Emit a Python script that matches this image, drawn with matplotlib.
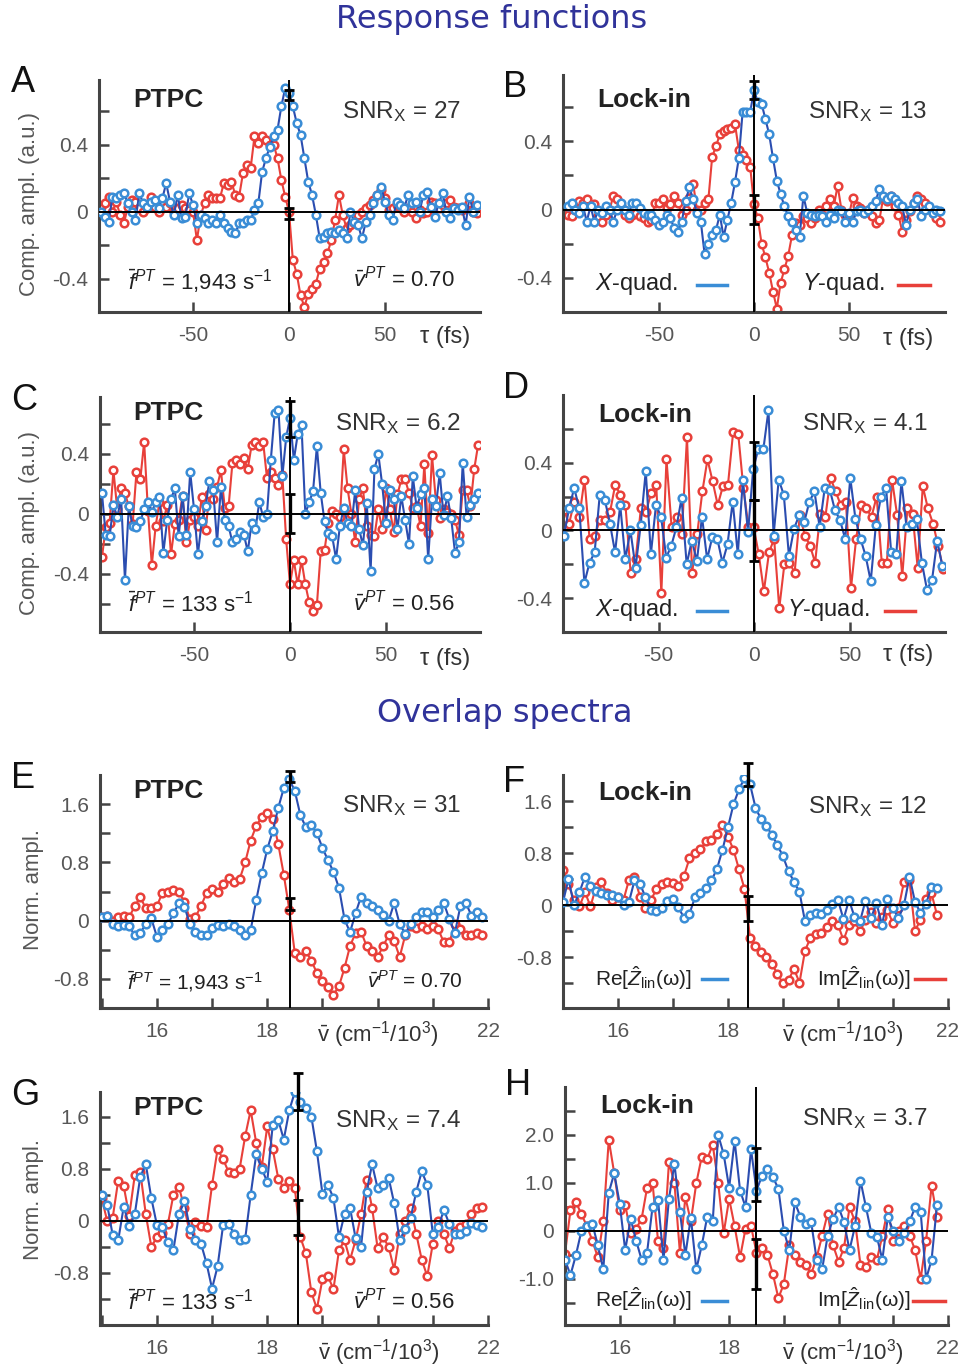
import numpy as np
import matplotlib
matplotlib.use("Agg")
import matplotlib.pyplot as plt
from matplotlib.lines import Line2D

plt.rcParams['font.family'] = 'Liberation Sans'
plt.rcParams['mathtext.fontset'] = 'custom'
plt.rcParams['mathtext.rm'] = 'Liberation Sans'
plt.rcParams['mathtext.it'] = 'Liberation Sans:italic'
plt.rcParams['mathtext.bf'] = 'Liberation Sans:bold'
plt.rcParams['axes.unicode_minus'] = False

# ---- response functions (tau in fs) ----
tau = np.arange(-98, 99, 2)

a_blue = [0.0, -0.03, -0.06, 0.09, 0.08, 0.1, 0.11, 0.05, 0.0, -0.05,
          0.11, 0.05, 0.03, 0.06, 0.07, 0.02, 0.08, 0.17, 0.06, -0.02,
          0.1, -0.04, -0.03, 0.11, 0.04, -0.07, -0.02, -0.04, -0.07, -0.05,
          -0.07, -0.02, -0.07, -0.1, -0.12, -0.13, -0.07, -0.07, -0.05, -0.05,
          0.01, 0.05, 0.24, 0.32, 0.39, 0.45, 0.49, 0.63, 0.74, 0.71,
          0.63, 0.53, 0.46, 0.32, 0.18, 0.1, -0.02, -0.16, -0.15, -0.13,
          -0.12, -0.13, -0.11, -0.13, -0.16, 0.0, -0.06, -0.08, -0.16, -0.06,
          -0.02, 0.05, 0.1, 0.15, 0.06, -0.02, -0.05, 0.06, 0.04, 0.02,
          0.1, 0.05, 0.06, 0.0, 0.1, 0.12, 0.03, -0.03, 0.05, 0.11,
          0.0, -0.04, 0.02, 0.01, 0.03, -0.08, 0.09, 0.0, 0.04]
a_red = [0.03, 0.05, 0.09, 0.0, 0.06, -0.02, -0.07, 0.03, 0.07, 0.06,
         0.02, 0.0, 0.02, 0.09, 0.03, 0.0, 0.06, 0.03, 0.05, 0.0,
         0.02, 0.04, 0.02, 0.01, 0.0, -0.17, -0.02, 0.05, 0.1, 0.08,
         0.08, 0.08, 0.17, 0.16, 0.18, 0.1, 0.09, 0.23, 0.28, 0.26,
         0.45, 0.41, 0.45, 0.43, 0.4, 0.4, 0.32, 0.19, 0.09, 0.0,
         -0.29, -0.37, -0.5, -0.57, -0.49, -0.46, -0.43, -0.34, -0.3, -0.25,
         -0.17, -0.05, 0.1, -0.02, -0.1, -0.08, -0.07, -0.02, 0.0, 0.02,
         0.04, 0.07, 0.1, 0.13, 0.08, 0.01, 0.02, 0.04, 0.03, 0.0,
         0.02, 0.0, -0.04, 0.01, -0.01, 0.0, 0.06, 0.05, 0.02, 0.04,
         0.05, 0.07, 0.03, 0.02, 0.01, 0.03, 0.05, 0.0, -0.01]

b_blue = [0.02, 0.04, 0.0, -0.02, 0.02, -0.07, 0.02, -0.07, 0.0, -0.02,
          0.02, 0.0, -0.07, 0.0, 0.04, 0.0, -0.03, 0.04, 0.04, 0.01,
          -0.02, -0.03, -0.03, -0.06, -0.09, -0.07, -0.03, -0.05, -0.11, -0.13,
          -0.07, 0.05, 0.13, 0.06, -0.02, -0.07, -0.26, -0.2, -0.15, -0.12,
          -0.03, -0.16, -0.06, 0.04, 0.16, 0.3, 0.57, 0.57, 0.57, 0.7,
          0.63, 0.62, 0.53, 0.44, 0.3, 0.17, 0.09, 0.02, -0.04, -0.07,
          -0.12, -0.16, 0.08, -0.02, -0.03, -0.04, -0.03, -0.04, -0.07, -0.03,
          -0.05, 0.0, -0.01, -0.07, -0.02, -0.07, -0.01, 0.0, -0.02, 0.0,
          0.02, 0.05, 0.12, 0.08, 0.06, 0.08, 0.06, 0.04, 0.02, -0.09,
          0.0, 0.04, 0.06, -0.04, 0.0, 0.02, -0.02, 0.0, -0.01]
b_red = [-0.03, -0.04, 0.0, 0.05, 0.04, 0.06, 0.02, 0.03, -0.04, -0.07,
         -0.03, 0.0, 0.08, 0.06, 0.02, -0.03, -0.05, -0.03, -0.02, -0.04,
         -0.05, -0.07, -0.06, 0.04, 0.04, 0.06, 0.01, 0.03, 0.08, 0.04,
         -0.03, 0.0, 0.07, 0.15, 0.0, 0.0, 0.04, 0.06, 0.31, 0.37,
         0.44, 0.46, 0.47, 0.48, 0.5, 0.35, 0.32, 0.29, 0.25, 0.03,
         -0.05, -0.2, -0.28, -0.37, -0.48, -0.58, -0.43, -0.35, -0.27, -0.15,
         -0.08, -0.09, -0.04, -0.05, -0.08, -0.05, 0.0, -0.03, 0.02, 0.06,
         0.02, 0.14, 0.0, -0.03, -0.03, 0.07, 0.02, 0.01, -0.02, 0.0,
         -0.04, -0.08, -0.06, 0.07, 0.05, 0.08, 0.02, -0.03, -0.13, -0.06,
         -0.01, 0.04, 0.08, 0.06, 0.04, 0.01, -0.02, -0.05, -0.07]

c_blue = [0.14, -0.14, -0.15, 0.06, -0.02, 0.1, -0.44, 0.05, -0.08, -0.09,
          -0.05, 0.03, 0.08, 0.01, 0.08, 0.11, -0.26, -0.04, 0.1, 0.17,
          -0.15, 0.12, -0.14, 0.28, 0.03, -0.27, -0.05, 0.05, 0.22, 0.16,
          -0.19, 0.18, -0.04, -0.08, -0.19, -0.17, -0.12, -0.14, -0.25, -0.06,
          -0.1, 0.08, -0.02, 0.0, 0.36, 0.67, 0.69, 0.25, 0.51, 0.64,
          0.36, 0.53, 0.59, 0.0, 0.08, 0.15, 0.45, 0.14, -0.05, -0.13,
          -0.15, -0.3, -0.08, 0.04, -0.06, -0.08, 0.16, -0.1, -0.21, 0.07,
          -0.38, 0.3, 0.4, 0.2, -0.06, 0.16, 0.1, -0.1, 0.12, -0.04,
          -0.2, 0.25, 0.04, 0.13, 0.17, -0.3, 0.1, 0.05, 0.27, -0.01,
          0.12, -0.03, -0.26, -0.19, 0.34, -0.02, 0.06, 0.1, 0.14]
c_red = [-0.29, -0.09, -0.06, 0.29, 0.03, 0.17, 0.14, 0.05, -0.07, 0.28,
         0.23, 0.48, 0.02, -0.34, -0.08, 0.08, -0.05, 0.06, -0.27, -0.07,
         -0.04, 0.12, -0.19, -0.04, -0.02, -0.08, 0.11, -0.11, 0.13, 0.1,
         0.18, 0.29, 0.04, 0.05, 0.34, 0.36, 0.33, 0.37, 0.3, 0.46,
         0.48, 0.45, 0.48, 0.24, 0.28, 0.24, 0.19, 0.26, -0.17, -0.47,
         -0.31, -0.47, -0.31, -0.47, -0.59, -0.65, -0.61, -0.25, -0.24, -0.06,
         0.02, 0.0, -0.02, 0.43, 0.17, 0.0, -0.19, 0.1, 0.17, -0.08,
         -0.14, -0.15, 0.03, -0.1, 0.17, 0.03, -0.12, 0.13, 0.23, 0.23,
         0.14, 0.04, 0.05, -0.08, 0.33, -0.13, 0.39, 0.09, -0.03, 0.03,
         0.01, 0.0, -0.04, -0.14, 0.16, 0.16, 0.05, 0.3, 0.46]

d_blue = [-0.03, 0.13, 0.25, 0.13, -0.31, -0.19, -0.13, 0.21, 0.18, 0.04,
          -0.13, 0.15, -0.17, 0.0, -0.22, 0.03, 0.35, -0.14, 0.15, 0.08,
          -0.16, -0.09, 0.02, 0.19, -0.2, -0.06, -0.18, 0.08, -0.17, -0.04,
          -0.05, -0.19, -0.08, 0.17, -0.14, 0.3, -0.01, 0.36, 0.48, 0.48,
          0.71, -0.03, 0.3, 0.21, -0.15, 0.01, 0.09, 0.05, 0.17, 0.23,
          0.02, 0.25, 0.24, 0.12, 0.06, -0.05, 0.31, 0.07, -0.05, -0.15,
          -0.3, 0.03, 0.2, 0.25, -0.13, -0.14, 0.29, 0.02, 0.04, 0.07,
          -0.19, -0.35, -0.29, -0.06, -0.21]
d_red = [0.12, 0.04, 0.17, 0.08, 0.3, -0.05, -0.03, 0.06, 0.06, 0.11,
         0.27, 0.21, 0.15, -0.25, -0.17, 0.13, 0.11, 0.22, 0.27, -0.37,
         0.42, 0.02, 0.08, -0.02, 0.55, -0.25, -0.02, 0.23, 0.42, 0.29,
         0.15, 0.26, 0.27, 0.58, 0.57, 0.25, 0.02, 0.02, -0.14, -0.36,
         -0.13, -0.05, -0.46, -0.2, -0.19, -0.25, 0.09, -0.03, -0.09, -0.19,
         0.1, 0.08, 0.31, 0.23, 0.15, 0.17, -0.34, -0.05, 0.15, 0.13,
         0.08, 0.2, -0.19, -0.19, 0.3, 0.09, -0.27, 0.13, 0.1, -0.22,
         0.26, 0.13, 0.04, -0.09, -0.23]
d_tau_blue = np.linspace(-99.5, 98.1, len(d_blue))
d_tau_red = np.linspace(-99.5, 98.6, len(d_red))

# ---- overlap spectra (wavenumber / 10^3 cm^-1) ----
nu_left = np.round(np.arange(15.0, 21.95, 0.1), 2)   # E, G
nu_right = np.round(np.arange(15.0, 21.85, 0.1), 2)  # F, H

e_blue = [0.05, 0.06, -0.05, -0.08, -0.06, -0.08, -0.2, -0.17, -0.05, 0.03,
          -0.22, -0.13, -0.05, 0.1, 0.24, 0.19, -0.05, -0.16, -0.2, -0.2,
          -0.1, -0.06, -0.08, -0.04, -0.08, -0.13, -0.2, -0.13, 0.28, 0.65,
          0.98, 1.23, 1.55, 1.82, 1.94, 1.78, 1.45, 1.28, 1.31, 1.2,
          1.0, 0.83, 0.67, 0.45, 0.02, -0.16, 0.1, 0.33, 0.24, 0.2,
          0.15, 0.08, 0.0, 0.24, -0.05, -0.18, -0.05, 0.05, 0.12, 0.12,
          0.05, 0.14, 0.24, 0.02, -0.17, 0.2, 0.24, 0.07, 0.12, 0.05]
e_red = [0.05, 0.07, 0.0, 0.05, 0.07, 0.05, 0.2, 0.32, 0.17, 0.17,
         0.2, 0.38, 0.4, 0.42, 0.4, 0.25, 0.02, 0.05, 0.2, 0.38,
         0.44, 0.4, 0.5, 0.58, 0.53, 0.57, 0.8, 1.1, 1.3, 1.42,
         1.48, 1.4, 1.05, 0.63, 0.15, -0.45, -0.5, -0.42, -0.55, -0.72,
         -0.83, -0.91, -1.02, -0.9, -0.65, -0.35, -0.17, -0.15, -0.35, -0.42,
         -0.5, -0.35, -0.2, -0.28, -0.5, -0.2, -0.07, -0.1, -0.08, -0.12,
         -0.08, -0.12, -0.3, -0.3, -0.05, -0.12, -0.2, -0.2, -0.17, -0.2]

f_blue = [0.05, 0.4, 0.0, 0.2, 0.44, 0.3, 0.22, 0.18, 0.15, 0.15,
          0.13, 0.0, 0.05, 0.38, 0.33, 0.12, -0.08, -0.09, -0.04, 0.07,
          0.1, -0.03, -0.2, -0.13, 0.12, 0.18, 0.26, 0.38, 0.56, 0.85,
          1.2, 1.55, 1.78, 1.95, 1.86, 1.5, 1.32, 1.21, 1.08, 0.92,
          0.75, 0.52, 0.36, 0.2, -0.25, -0.15, -0.12, -0.13, -0.08, 0.02,
          0.08, -0.22, 0.08, -0.18, -0.25, 0.07, -0.2, 0.03, -0.3, 0.1,
          -0.05, -0.2, 0.0, 0.44, 0.05, -0.12, 0.02, 0.28, 0.26]
f_red = [0.54, 0.32, 0.08, -0.02, 0.2, -0.02, 0.28, 0.35, 0.18, 0.08,
         0.12, 0.08, 0.39, 0.43, 0.13, -0.05, 0.08, 0.25, 0.33, 0.36,
         0.34, 0.3, 0.45, 0.72, 0.8, 0.86, 0.98, 1.0, 1.1, 1.23,
         1.05, 0.85, 0.55, 0.25, -0.5, -0.62, -0.72, -0.8, -0.9, -1.06,
         -1.2, -1.15, -0.98, -1.19, -0.7, -0.5, -0.45, -0.42, -0.33, -0.25,
         -0.3, -0.54, -0.3, -0.25, -0.4, -0.23, -0.1, -0.28, -0.18, -0.08,
         -0.28, -0.05, 0.36, 0.38, -0.39, -0.23, 0.1, 0.18, -0.15]

g_blue = [0.4, 0.25, -0.22, -0.3, 0.22, -0.08, 0.1, 0.68, 0.87, 0.35,
          -0.06, -0.1, -0.33, -0.45, 0.1, 0.3, -0.12, -0.3, -0.35, -0.65,
          -1.04, -0.7, -0.07, -0.05, -0.2, -0.3, -0.28, 0.4, 1.02, 0.8,
          0.6, 1.48, 1.55, 1.25, 1.7, 1.98, 1.82, 1.73, 1.6, 1.07,
          0.42, 0.55, 0.35, -0.25, 0.1, 0.2, -0.26, -0.4, 0.45, 0.87,
          0.5, 0.55, 0.66, 0.27, -0.3, -0.12, 0.05, 0.45, 0.76, 0.55,
          -0.2, -0.1, 0.17, -0.05, -0.2, -0.2, -0.15, -0.03, -0.07, -0.1]
g_red = [0.35, 0.0, 0.05, 0.62, 0.53, 0.08, 0.7, 0.75, 0.1, -0.4,
         -0.25, -0.18, -0.05, 0.4, 0.52, 0.2, -0.2, -0.02, -0.08, -0.1,
         0.55, 1.1, 0.95, 0.75, 0.73, 0.8, 1.3, 1.7, 1.2, 0.82,
         1.45, 1.1, 0.65, 0.5, 0.62, 0.5, -0.25, -0.5, -1.1, -1.35,
         -0.9, -0.85, -1.05, -0.45, -0.3, -0.6, -0.3, 0.1, 0.63, 0.2,
         -0.42, -0.25, -0.4, -0.75, -0.2, 0.0, 0.2, -0.2, -0.6, -0.85,
         -0.35, 0.0, -0.2, -0.42, -0.15, -0.1, -0.05, 0.1, 0.2, 0.22]

h_blue = [-0.6, -0.92, -0.5, 0.0, 0.1, 0.15, -0.3, -0.8, 0.8, 1.2,
          0.57, -0.4, 0.25, -0.2, -0.6, -0.45, 0.5, 0.65, -0.6, 0.67,
          1.4, 0.4, -0.5, 0.28, -0.8, -0.3, 0.3, 0.2, 2.0, 1.6,
          0.9, 1.88, 0.84, 0.5, 1.7, 0.84, 1.15, 1.29, 1.12, 0.88,
          0.0, -0.4, 0.6, 0.3, 0.15, 0.18, -0.6, -0.8, -0.1, 0.25,
          0.5, 0.18, -0.4, 0.1, 1.05, 0.5, -0.05, -0.12, -0.6, 0.29,
          0.0, -0.2, -0.05, 0.2, 0.5, 0.4, -1.0, -0.6, 0.55]
h_red = [-0.47, 0.43, 0.6, 0.35, 0.1, -0.2, -0.55, 0.2, 1.9, 1.2,
         0.43, 0.55, -0.05, 0.05, 0.25, 0.9, 1.0, -0.2, -0.35, 1.43,
         1.0, -0.45, 0.7, 0.2, 1.0, 1.55, 1.5, 1.8, 1.0, -0.05,
         0.67, 0.1, -0.55, 0.05, 0.1, -0.45, -0.35, -0.5, -0.9, -1.4,
         -1.1, -0.3, -0.5, -0.65, -0.7, -0.9, -0.55, -0.1, 0.36, -0.3,
         -0.64, -0.35, 0.5, 0.2, -0.7, -0.75, -0.55, -0.6, -0.1, 0.45,
         -0.2, 0.0, 0.1, -0.1, -0.4, -1.0, -0.2, 0.94, 0.3]

# reference line position and error bars (x0, centres, half-widths)
x0_vals = [0, 0, 0, 0, 18.42, 18.36, 18.55, 18.49]
err_y = [[0.70, -0.01], [0.70, 0.0], [0.63, 0.0], [0.35, 0.0],
         [1.98, 0.23], [2.01, -0.05], [1.99, 0.05], [1.18, -0.69]]
err_h = [[0.03, 0.035], [0.055, 0.087], [0.12, 0.13], [0.17, 0.18],
         [0.07, 0.08], [0.18, 0.19], [0.28, 0.27], [0.55, 0.53]]

snr_vals = ['27', '13', '6.2', '4.1', '31', '12', '7.4', '3.7']
f_pt = ['1,943', '133', '1,943', '133']
v_pt = ['0.70', '0.56', '0.70', '0.56']

# ---- figure ----
W, H = 959, 1369
fig = plt.figure(figsize=(W / 100, H / 100), dpi=100)

BLUE_LINE = '#2b4db0'
BLUE_MK = '#3a8dd6'
RED = '#e8403a'
GRAY = '#575757'
DARK = '#222222'
TITLE = '#30339a'


def put(x, y, s, **kw):
    kw.setdefault('va', 'baseline')
    kw.setdefault('ha', 'left')
    return fig.text(x / W, 1 - y / H, s, **kw)


def make_ax(l, t, r, b):
    ax = fig.add_axes([l / W, 1 - b / H, (r - l) / W, (b - t) / H])
    ax.patch.set_alpha(0)
    for s in ('top', 'right'):
        ax.spines[s].set_visible(False)
    for s in ('left', 'bottom'):
        ax.spines[s].set_color('#444444')
        ax.spines[s].set_linewidth(2.2)
    ax.tick_params(which='both', direction='in', length=7, width=1.8,
                   color='#444444', labelcolor=GRAY, labelsize=15)
    ax.tick_params(axis='y', pad=8)
    ax.tick_params(axis='x', pad=10)
    return ax


def draw(ax, xr, yr, xb, yb, k):
    ax.plot(xr, yr, '-o', color=RED, lw=1.5, ms=5.5, mfc='white',
            mec=RED, mew=1.8, zorder=2)
    ax.plot(xb, yb, '-o', color=BLUE_LINE, lw=1.5, ms=5.5, mfc='white',
            mec=BLUE_MK, mew=1.8, zorder=3)
    ax.axhline(0, color='k', lw=1.4, zorder=4)
    ax.axvline(x0_vals[k], color='k', lw=1.4, zorder=4)
    eb = ax.errorbar([x0_vals[k]] * 2, err_y[k], yerr=err_h[k], fmt='none',
                     ecolor='k', elinewidth=2.4, capsize=3.5, capthick=2, zorder=6)
    for art in list(eb.lines[1]) + list(eb.lines[2]):
        art.set_clip_on(False)


def time_ticks(ax):
    ax.set_xticks([-50, 0, 50])
    ax.set_xticklabels(['-50', '0', '50'])
    ax.set_yticks([-0.4, 0, 0.4])
    ax.set_yticklabels(['-0.4', '0', '0.4'])
    ax.set_yticks([-0.6, -0.2, 0.2, 0.6], minor=True)


def spec_ticks(ax, big=False):
    ax.set_xticks([16, 18, 22])
    ax.set_xticklabels(['16', '18', '22'])
    ax.set_xticks([15, 17, 19, 20, 21], minor=True)
    if big:
        ax.set_yticks([-1, 0, 1, 2])
        ax.set_yticklabels(['-1.0', '0', '1.0', '2.0'])
        ax.set_yticks([-1.5, -0.5, 0.5, 1.5, 2.5], minor=True)
    else:
        ax.set_yticks([-0.8, 0, 0.8, 1.6])
        ax.set_yticklabels(['-0.8', '0', '0.8', '1.6'])
        ax.set_yticks([-1.2, -0.4, 0.4, 1.2], minor=True)


# A
ax = make_ax(99, 80, 480, 312)
draw(ax, tau, a_red, tau, a_blue, 0)
ax.set_xlim(-99, 99.5); ax.set_ylim(-0.576, 0.788); time_ticks(ax)
# B
ax = make_ax(563, 75, 945, 312)
draw(ax, tau, b_red, tau, b_blue, 1)
ax.set_xlim(-100.5, 100.5); ax.set_ylim(-0.585, 0.788); time_ticks(ax)
# C
ax = make_ax(100, 397, 480, 632)
draw(ax, tau, c_red, tau, c_blue, 2)
ax.set_xlim(-99, 99); ax.set_ylim(-0.787, 0.78); time_ticks(ax)
# D
ax = make_ax(563, 395, 945, 632)
draw(ax, d_tau_red, d_red, d_tau_blue, d_blue, 3)
ax.set_xlim(-100, 99.5); ax.set_ylim(-0.594, 0.8); time_ticks(ax)
# E
ax = make_ax(100, 775, 488, 1008)
draw(ax, nu_left, e_red, nu_left, e_blue, 4)
ax.set_xlim(14.97, 22); ax.set_ylim(-1.19, 2.0); spec_ticks(ax)
# F
ax = make_ax(563, 775, 948, 1008)
draw(ax, nu_right, f_red, nu_right, f_blue, 5)
ax.set_xlim(15, 22); ax.set_ylim(-1.58, 2.0); spec_ticks(ax)
# G
ax = make_ax(100, 1092, 488, 1325)
draw(ax, nu_left, g_red, nu_left, g_blue, 6)
ax.set_xlim(14.97, 22); ax.set_ylim(-1.6, 1.98); spec_ticks(ax)
# H
ax = make_ax(565, 1087, 948, 1325)
draw(ax, nu_right, h_red, nu_right, h_blue, 7)
ax.set_xlim(15, 22); ax.set_ylim(-1.96, 3.0); spec_ticks(ax, big=True)

# section titles
put(492, 28, 'Response functions', ha='center', fontsize=23,
    color=TITLE, family='DejaVu Sans')
put(505, 722, 'Overlap spectra', ha='center', fontsize=23,
    color=TITLE, family='DejaVu Sans')

# panel letters
for s, x, y in [('A', 11, 92), ('B', 503, 97), ('C', 11, 410), ('D', 503, 398),
                ('E', 11, 788), ('F', 503, 792), ('G', 11, 1105), ('H', 505, 1095)]:
    put(x, y, s, fontsize=26, color='#111111')

# method labels
for s, x, y in [('PTPC', 133, 107), ('Lock-in', 597, 107), ('PTPC', 133, 420),
                ('Lock-in', 598, 422), ('PTPC', 133, 798), ('Lock-in', 598, 800),
                ('PTPC', 133, 1115), ('Lock-in', 600, 1113)]:
    put(x, y, s, fontsize=19, fontweight='bold', color=DARK)

# SNR labels
snr_pos = [(342, 118), (808, 118), (335, 430), (802, 430),
           (342, 812), (808, 813), (335, 1127), (802, 1125)]
for (x, y), v in zip(snr_pos, snr_vals):
    put(x, y, r'SNR$_{\rm X}$ = ' + v, fontsize=17.5, color='#333333')

# f and v annotations for PTPC panels
f_pos = [(128, 290, 16), (128, 612, 16), (127, 990, 15), (128, 1310, 16)]
v_pos = [(353, 287, 16), (353, 610, 16), (367, 988, 15), (353, 1308, 16)]
for (x, y, fs), val in zip(f_pos, f_pt):
    put(x, y, r'$\bar{f}^{PT}$ = ' + val + r' s$^{-1}$', fontsize=fs, color=DARK)
for (x, y, fs), val in zip(v_pos, v_pt):
    put(x, y, r'$\bar{v}^{PT}$ = ' + val, fontsize=fs, color=DARK)


# legends for lock-in panels
def leg_line(x1, x2, y, color):
    fig.add_artist(Line2D([x1 / W, x2 / W], [1 - y / H, 1 - y / H],
                          color=color, lw=2.5, transform=fig.transFigure))


put(595, 290, r'$X$-quad.', fontsize=17, color=DARK)
leg_line(697, 727, 285, BLUE_MK)
put(802, 290, r'$Y$-quad.', fontsize=17, color=DARK)
leg_line(898, 930, 285, RED)

put(595, 616, r'$X$-quad.', fontsize=17, color=DARK)
leg_line(697, 727, 611, BLUE_MK)
put(787, 616, r'$Y$-quad.', fontsize=17, color=DARK)
leg_line(885, 915, 611, RED)

re_lab = r'Re[$\hat{Z}_{\rm lin}$(ω)]'
im_lab = r'Im[$\hat{Z}_{\rm lin}$(ω)]'
put(595, 986, re_lab, fontsize=15, color=DARK)
leg_line(702, 727, 979, BLUE_MK)
put(817, 986, im_lab, fontsize=15, color=DARK)
leg_line(915, 945, 979, RED)

put(595, 1307, re_lab, fontsize=15, color=DARK)
leg_line(702, 727, 1301, BLUE_MK)
put(817, 1307, im_lab, fontsize=15, color=DARK)
leg_line(913, 945, 1301, RED)

# axis labels
for x, y in [(420, 343), (883, 345), (420, 665), (883, 661)]:
    put(x, y, 'τ (fs)', fontsize=17, color='#333333')
nu_lab = r'$\bar{\mathrm{v}}$ (cm$^{-1}$/10$^{3}$)'
for x, y in [(317, 1042), (782, 1042), (318, 1360), (782, 1360)]:
    put(x, y, nu_lab, fontsize=16, color='#333333')

for x, y in [(30, 204), (30, 523)]:
    put(x, y, 'Comp. ampl. (a.u.)', fontsize=16, color=GRAY,
        rotation=90, ha='center', va='center')
for x, y in [(33, 889), (33, 1200)]:
    put(x, y, 'Norm. ampl.', fontsize=16, color=GRAY,
        rotation=90, ha='center', va='center')

fig.savefig('out.png', dpi=100)
